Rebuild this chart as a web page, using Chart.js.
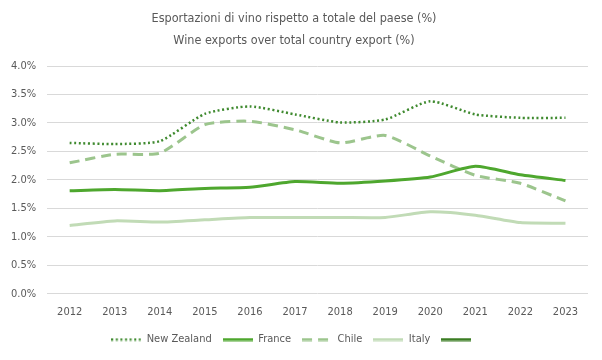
<!DOCTYPE html>
<html>
<head>
<meta charset="utf-8">
<script src="https://cdn.jsdelivr.net/npm/chart.js@4"></script>
<style>
html,body{margin:0;padding:0;background:#fff;}
#wrap{width:602px;height:360px;}
</style>
</head>
<body>
<div id="wrap"><canvas id="c" width="602" height="360"></canvas></div>
<script>
const years = ['2012','2013','2014','2015','2016','2017','2018','2019','2020','2021','2022','2023'];
const newZealand = [2.65,2.63,2.68,3.16,3.29,3.15,3.01,3.06,3.38,3.15,3.09,3.09];
const france     = [1.81,1.83,1.81,1.85,1.87,1.97,1.94,1.98,2.05,2.24,2.09,1.99];
const chile      = [2.30,2.45,2.47,2.97,3.03,2.88,2.65,2.78,2.42,2.08,1.94,1.63];
const italy      = [1.20,1.28,1.26,1.30,1.34,1.34,1.34,1.34,1.44,1.38,1.25,1.24];
const extra      = [];
const titleLines = ['Esportazioni di vino rispetto a totale del paese (%)','Wine exports over total country export (%)'];

const FONT = '"DejaVu Sans Condensed", "Liberation Sans Narrow", "Roboto Condensed", "Roboto", sans-serif';
const TXT = '#595959';

function legendSwatch(color, width, dash) {
  const cv = document.createElement('canvas');
  cv.width = 30; cv.height = 4;
  const g = cv.getContext('2d');
  g.strokeStyle = color; g.lineWidth = width; g.setLineDash(dash || []);
  g.beginPath(); g.moveTo(0, 2); g.lineTo(30, 2); g.stroke();
  return cv;
}

new Chart(document.getElementById('c'), {
  type: 'line',
  data: {
    labels: years,
    datasets: [
      {label:'New Zealand', data:newZealand, borderColor:'#3f8a2f', backgroundColor:'#3f8a2f', borderWidth:2.5, borderDash:[2,2.6], pointRadius:0, tension:0.2},
      {label:'France', data:france, borderColor:'#4ea72e', backgroundColor:'#4ea72e', borderWidth:3, pointRadius:0, tension:0.2},
      {label:'Chile', data:chile, borderColor:'#9cc58d', backgroundColor:'#9cc58d', borderWidth:3, borderDash:[10,6], pointRadius:0, tension:0.2},
      {label:'Italy', data:italy, borderColor:'#c1dbb6', backgroundColor:'#c1dbb6', borderWidth:3, pointRadius:0, tension:0.2},
      {label:'', data:extra, borderColor:'#3b7d23', backgroundColor:'#3b7d23', borderWidth:3, pointRadius:0}
    ]
  },
  options: {
    responsive:false,
    animation:false,
    layout:{padding:{left:0,right:14,top:6,bottom:5}},
    plugins:{
      title:{display:true, text:titleLines, color:TXT, font:{family:FONT, size:12.5, weight:'normal', lineHeight:1.8}, padding:{top:1,bottom:14}},
      legend:{position:'bottom',
        labels:{usePointStyle:true, pointStyleWidth:30, boxWidth:30, boxHeight:4, color:TXT, font:{family:FONT,size:11}, padding:11,
          generateLabels(chart){
            return chart.data.datasets.map((ds,i)=>({
              text: ds.label, fontColor: TXT, datasetIndex:i, hidden:false,
              pointStyle: legendSwatch(ds.borderColor, ds.borderWidth, ds.borderDash),
              strokeStyle: ds.borderColor, fillStyle: ds.borderColor, lineWidth:0
            }));
          }}},
      tooltip:{enabled:false}
    },
    scales:{
      x:{offset:true, grid:{display:false}, border:{display:false}, ticks:{color:TXT, font:{family:FONT,size:11}, padding:4}},
      y:{min:0, max:4, grid:{color:'#d9d9d9', drawTicks:false}, border:{display:false},
         ticks:{stepSize:0.5, color:TXT, font:{family:FONT,size:11}, padding:11, callback:v=>v.toFixed(1)+'%'}}
    }
  }
});
</script>
</body>
</html>
